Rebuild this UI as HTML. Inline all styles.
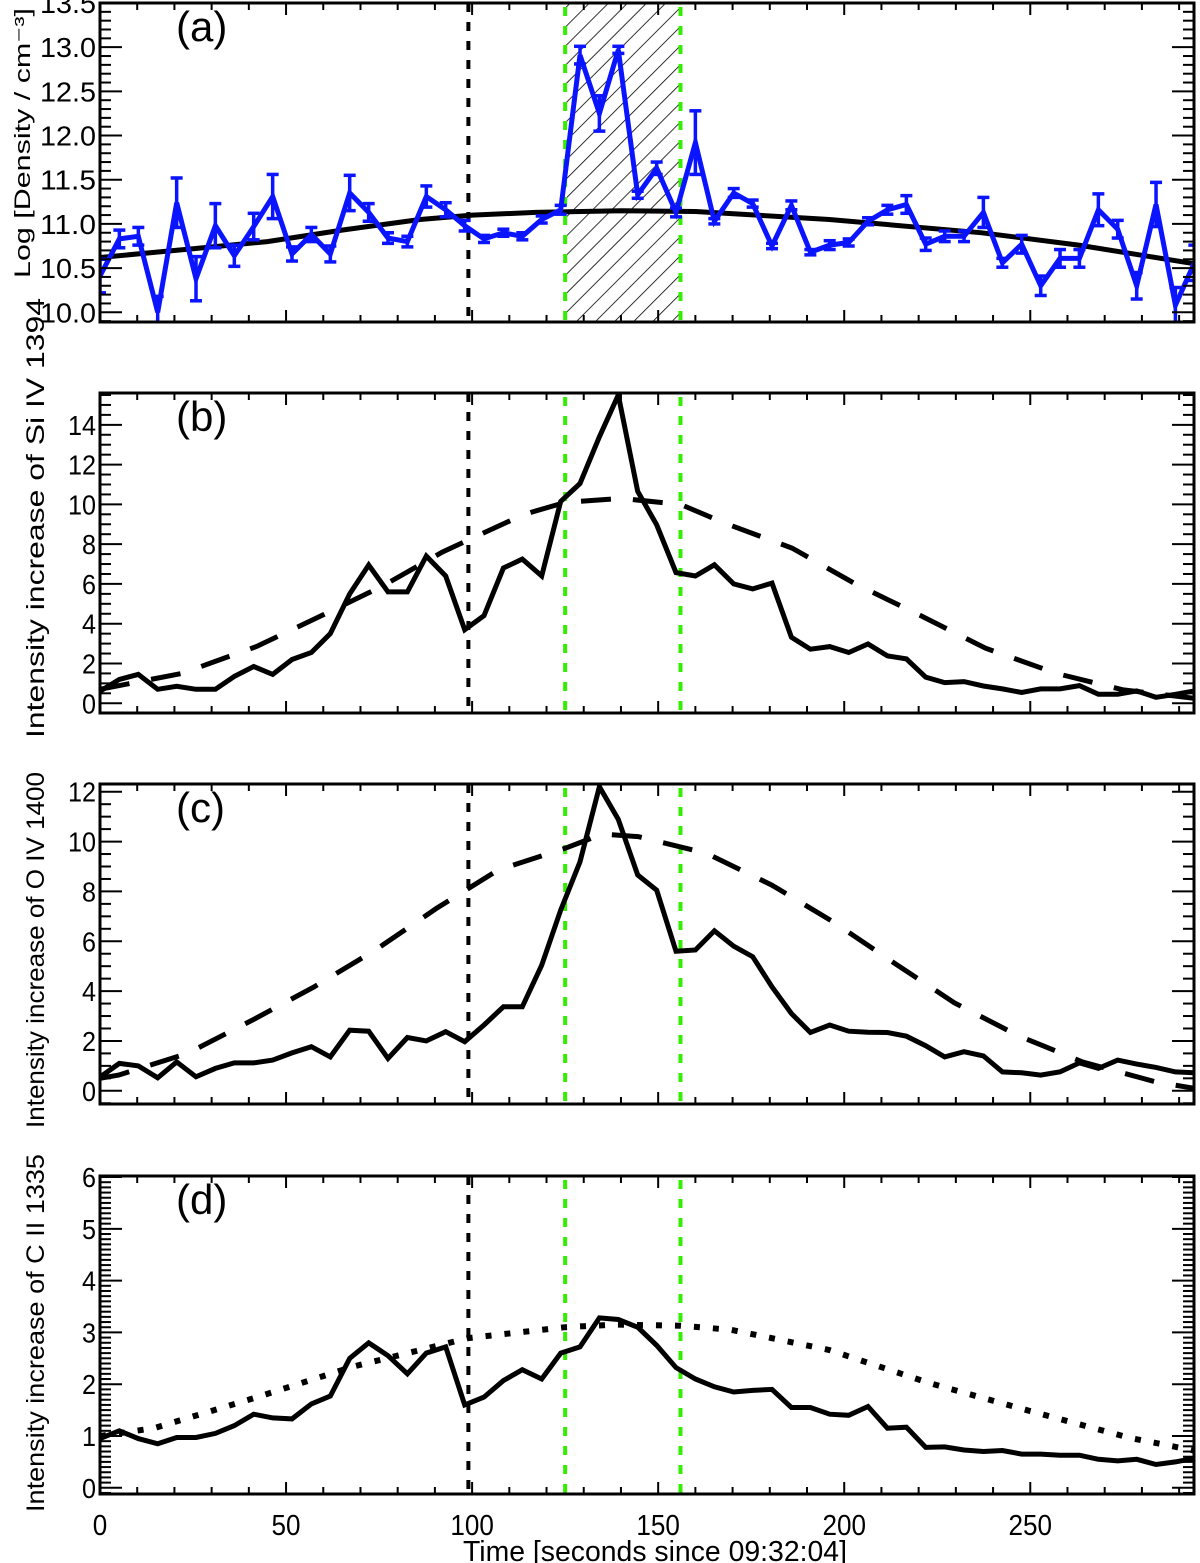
<!DOCTYPE html>
<html><head><meta charset="utf-8"><style>
html,body{margin:0;padding:0;background:#fff;}
svg{display:block;font-family:"Liberation Sans",sans-serif;}
</style></head><body>
<svg id="chart" width="1200" height="1563" viewBox="0 0 1200 1563" xmlns="http://www.w3.org/2000/svg">
<defs>
<pattern id="hatch" patternUnits="userSpaceOnUse" width="13.5" height="13.5" patternTransform="rotate(45)">
<line x1="0" y1="0" x2="0" y2="13.5" stroke="#000" stroke-width="1.6"/>
</pattern>
</defs>
</svg>
<script>
// ---- data ----
const times = [0,5.2,10.3,15.5,20.6,25.8,31.0,36.1,41.3,46.4,51.6,56.8,61.9,67.1,72.2,77.4,82.6,87.7,92.9,98.0,103.2,108.4,113.5,118.7,123.8,129.0,134.2,139.3,144.5,149.6,154.8,160.0,165.1,170.3,175.4,180.6,185.8,190.9,196.1,201.2,206.4,211.6,216.7,221.9,227.0,232.2,237.4,242.5,247.7,252.8,258.0,263.2,268.3,273.5,278.6,283.8,289.0,294.1];
const density = [10.41,10.83,10.86,10.0,11.24,10.38,10.98,10.64,10.97,11.31,10.66,10.88,10.66,11.35,11.13,10.84,10.8,11.31,11.16,10.98,10.83,10.9,10.86,11.05,11.16,12.91,12.25,12.97,11.33,11.63,11.13,11.92,11.03,11.35,11.23,10.75,11.21,10.68,10.76,10.79,11.03,11.16,11.22,10.77,10.86,10.86,11.13,10.56,10.77,10.3,10.61,10.61,11.16,10.94,10.3,11.22,10.08,10.56];
const densityErr = [0.19,0.1,0.1,0.18,0.28,0.25,0.25,0.12,0.15,0.25,0.08,0.08,0.09,0.2,0.1,0.06,0.06,0.12,0.08,0.06,0.04,0.04,0.04,0.04,0.05,0.1,0.2,0.04,0.04,0.07,0.05,0.36,0.03,0.05,0.04,0.03,0.05,0.03,0.05,0.04,0.04,0.05,0.1,0.07,0.06,0.06,0.17,0.05,0.1,0.11,0.1,0.1,0.18,0.1,0.15,0.25,0.2,0.2];
const fitA_t = [0,25,45,65,86,100,117,140,160,196,237,263,294];
const fitA_v = [10.62,10.72,10.8,10.93,11.05,11.1,11.13,11.15,11.14,11.05,10.9,10.76,10.55];
const siIV = [0.6,1.2,1.45,0.7,0.85,0.7,0.7,1.35,1.85,1.45,2.2,2.55,3.5,5.5,6.95,5.6,5.6,7.4,6.4,3.7,4.4,6.8,7.25,6.4,10.15,11.05,13.4,15.5,10.65,8.97,6.57,6.4,6.96,6.0,5.75,6.04,3.32,2.72,2.85,2.55,2.98,2.38,2.23,1.31,1.04,1.09,0.87,0.72,0.54,0.72,0.72,0.89,0.45,0.45,0.62,0.3,0.45,0.62];
const fitB_t = [0,22,42,60,76,92,100,114,125,140,156,168,186,203,221,238,257,275,294];
const fitB_v = [0.7,1.5,2.85,4.45,5.9,7.6,8.3,9.5,10.1,10.3,10.0,9.05,7.8,6.0,4.36,2.77,1.5,0.67,0.25];
const oIV = [0.55,1.1,1.0,0.52,1.16,0.56,0.9,1.12,1.12,1.23,1.52,1.77,1.36,2.43,2.39,1.3,2.14,2.0,2.37,1.97,2.64,3.37,3.37,5.04,7.25,9.19,12.2,10.89,8.66,8.05,5.6,5.65,6.42,5.8,5.38,4.17,3.1,2.34,2.64,2.39,2.35,2.34,2.19,1.81,1.36,1.57,1.4,0.76,0.72,0.63,0.76,1.12,0.9,1.23,1.07,0.94,0.76,0.72];
const fitC_t = [0,5,23.5,41,57.5,74,90.4,107,125,135,144.6,163,180.6,197,213.6,229.6,246.5,264,283.6,294];
const fitC_v = [0.5,0.63,1.5,2.84,4.17,5.65,7.32,8.86,9.73,10.3,10.2,9.53,8.25,6.78,5.11,3.53,2.23,1.16,0.36,0.1];
const cII = [0.95,1.1,0.95,0.85,0.97,0.97,1.05,1.2,1.42,1.35,1.33,1.62,1.77,2.5,2.8,2.55,2.2,2.6,2.72,1.6,1.75,2.07,2.28,2.1,2.6,2.72,3.28,3.25,3.1,2.75,2.32,2.1,1.95,1.85,1.88,1.9,1.55,1.55,1.42,1.4,1.57,1.15,1.17,0.78,0.79,0.73,0.7,0.72,0.65,0.65,0.63,0.63,0.55,0.52,0.55,0.45,0.5,0.57];
const fitD_t = [0,14.5,41.3,68,99,125,138.5,156,169.6,196,223,250,277,294];
const fitD_v = [1.0,1.15,1.73,2.34,2.89,3.1,3.15,3.13,3.05,2.66,2.02,1.48,0.96,0.72];
const xTickLabels = ["0","50","100","150","200","250"];
const markerBlack = [99];
const markerGreen = [125,156];
const hatchRange = [125,156];

// ---- layout ----
const NS = "http://www.w3.org/2000/svg";
const svg = document.getElementById("chart");
const X0 = 100, X1 = 1194, TMIN = 0, TMAX = 294;
function xs(t){ return X0 + (t - TMIN) / (TMAX - TMIN) * (X1 - X0); }
function mk(tag, attrs, parent){
  const e = document.createElementNS(NS, tag);
  for (const k in attrs) e.setAttribute(k, attrs[k]);
  (parent || svg).appendChild(e);
  return e;
}
const panels = [
  {id:"a", top:3, bot:322, ymin:9.89, ymax:13.5, major:0.5, minor:0.1, dec:1, label:"(a)", ytitle:"Log [Density / cm\u207B\u00B3]", tx:30, tlen:270, tfs:22},
  {id:"b", top:393, bot:713, ymin:-0.49, ymax:15.6, major:2, minor:0.5, dec:0, label:"(b)", ytitle:"Intensity increase of Si IV 1394", tx:44, tlen:440, tfs:25},
  {id:"c", top:784, bot:1104, ymin:-0.53, ymax:12.31, major:2, minor:0.5, dec:0, label:"(c)", ytitle:"Intensity increase of O IV 1400", tx:44, tlen:356, tfs:25},
  {id:"d", top:1176, bot:1494, ymin:-0.12, ymax:6.02, major:1, minor:0.1, dec:0, label:"(d)", ytitle:"Intensity increase of C II 1335", tx:44, tlen:358, tfs:25}
];
const titleCenters = {a:143, b:518, c:950, d:1333};

panels.forEach(function(p){
  const ys = function(v){ return p.bot - (v - p.ymin) / (p.ymax - p.ymin) * (p.bot - p.top); };
  const g = mk("g", {});
  
  
  const cp = mk("clipPath", {id:"clip-" + p.id}, g);
  mk("rect", {x:X0, y:p.top, width:X1 - X0, height:p.bot - p.top}, cp);
  const plot = mk("g", {"clip-path":"url(#clip-" + p.id + ")"}, g);

  if (p.id === "a") {
    const h = mk("rect", {x:xs(hatchRange[0]), y:p.top, width:xs(hatchRange[1]) - xs(hatchRange[0]), height:p.bot - p.top, fill:"url(#hatch)"}, plot);
    
    
  }
  markerBlack.forEach(function(t){
    const l = mk("line", {x1:xs(t), x2:xs(t), y1:p.top, y2:p.bot, stroke:"#000", "stroke-width":4, "stroke-dasharray":"9,10"}, plot);
    
    
  });
  markerGreen.forEach(function(t){
    const l = mk("line", {x1:xs(t), x2:xs(t), y1:p.top + 4, y2:p.bot, stroke:"#33ee00", "stroke-width":4, "stroke-dasharray":"9,10"}, plot);
    
    
  });

  function pts(tArr, vArr){ return tArr.map(function(t, i){ return xs(t).toFixed(1) + "," + ys(vArr[i]).toFixed(1); }).join(" "); }

  if (p.id === "a") {
    const f = mk("polyline", {points:pts(fitA_t, fitA_v), fill:"none", stroke:"#000", "stroke-width":5}, plot);
    
    
    const eb = mk("g", {stroke:"#0a14ff", "stroke-width":3.5}, plot);
    
    
    times.forEach(function(t, i){
      const x = xs(t), yT = ys(density[i] + densityErr[i]), yB = ys(density[i] - densityErr[i]);
      mk("line", {x1:x, x2:x, y1:yT, y2:yB}, eb);
      mk("line", {x1:x - 6, x2:x + 6, y1:yT, y2:yT}, eb);
      mk("line", {x1:x - 6, x2:x + 6, y1:yB, y2:yB}, eb);
    });
    const s = mk("polyline", {points:pts(times, density), fill:"none", stroke:"#0a14ff", "stroke-width":5}, plot);
    
    
  } else {
    let ser, ft, fv, dash, fw;
    if (p.id === "b") { ser = siIV; ft = fitB_t; fv = fitB_v; dash = "30,22"; fw = 5; }
    if (p.id === "c") { ser = oIV; ft = fitC_t; fv = fitC_v; dash = "30,22"; fw = 5; }
    if (p.id === "d") { ser = cII; ft = fitD_t; fv = fitD_v; dash = "6,13"; fw = 6; }
    const f = mk("polyline", {points:pts(ft, fv), fill:"none", stroke:"#000", "stroke-width":fw, "stroke-dasharray":dash}, plot);
    
    
    const s = mk("polyline", {points:pts(times, ser), fill:"none", stroke:"#000", "stroke-width":5}, plot);
    
    
  }

  const box = mk("rect", {x:X0, y:p.top, width:X1 - X0, height:p.bot - p.top, fill:"none", stroke:"#000", "stroke-width":3}, g);
  
  

  const xt = mk("g", {stroke:"#000", "stroke-width":2}, g);
  
  
  for (let t = 0; t <= TMAX; t += 10) {
    const len = (t % 50 === 0) ? 12 : 7;
    mk("line", {x1:xs(t), x2:xs(t), y1:p.bot, y2:p.bot - len}, xt);
    mk("line", {x1:xs(t), x2:xs(t), y1:p.top, y2:p.top + len}, xt);
  }
  const yt = mk("g", {stroke:"#000", "stroke-width":2}, g);
  
  
  const nMin = Math.ceil(p.ymin / p.minor - 1e-6), nMax = Math.floor(p.ymax / p.minor + 1e-6);
  const ratio = Math.round(p.major / p.minor);
  for (let n = nMin; n <= nMax; n++) {
    const v = n * p.minor, y = ys(v);
    const isMajor = (n % ratio === 0);
    const len = isMajor ? 22 : 11;
    mk("line", {x1:X0, x2:X0 + len, y1:y, y2:y}, yt);
    mk("line", {x1:X1, x2:X1 - len, y1:y, y2:y}, yt);
    if (isMajor) {
      const s = v.toFixed(p.dec);
      const tl = mk("text", {x:X0 - 4, y:y + 10, "text-anchor":"end", "font-size":28, fill:"#000", textLength:s.length * 14, lengthAdjust:"spacingAndGlyphs"}, g);
      tl.textContent = s;
      
      
    }
  }
  const pl = mk("text", {x:176, y:p.top + 38, "font-size":42, fill:"#000"}, g);
  pl.textContent = p.label;
  
  
  const cy = titleCenters[p.id];
  const yl = mk("text", {x:p.tx, y:cy, "text-anchor":"middle", "font-size":p.tfs, fill:"#000", transform:"rotate(-90 " + p.tx + " " + cy + ")", textLength:p.tlen, lengthAdjust:"spacingAndGlyphs"}, g);
  yl.textContent = p.ytitle;
  
  
});

xTickLabels.forEach(function(s){
  const t = mk("text", {x:xs(parseFloat(s)), y:1535, "text-anchor":"middle", "font-size":29, fill:"#000", textLength:s.length * 14.5, lengthAdjust:"spacingAndGlyphs"});
  t.textContent = s;
  
  
});
const xt = mk("text", {x:655, y:1561, "text-anchor":"middle", "font-size":29, fill:"#000", textLength:384, lengthAdjust:"spacingAndGlyphs"});
xt.textContent = "Time [seconds since 09:32:04]";


</script>
</body></html>
